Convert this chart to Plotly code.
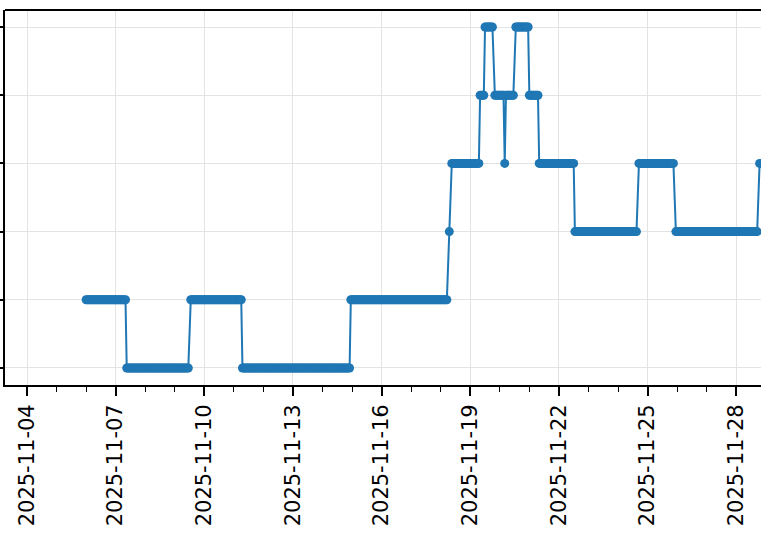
import pandas as pd
import plotly.graph_objects as go

# Run-length readings: each run holds a constant level, sampled hourly
seg_start = ["2025-11-06 00:00", "2025-11-07 09:00", "2025-11-09 13:00", "2025-11-11 07:00",
             "2025-11-14 23:00", "2025-11-18 07:00", "2025-11-18 09:00", "2025-11-19 08:00",
             "2025-11-19 12:00", "2025-11-19 20:00", "2025-11-20 04:00", "2025-11-20 05:00",
             "2025-11-20 13:00", "2025-11-21 00:00", "2025-11-21 08:00", "2025-11-22 13:00",
             "2025-11-24 17:00", "2025-11-25 23:00", "2025-11-28 19:00"]
seg_end = ["2025-11-07 08:00", "2025-11-09 11:00", "2025-11-11 06:00", "2025-11-14 22:00",
           "2025-11-18 05:00", "2025-11-18 07:00", "2025-11-19 07:00", "2025-11-19 11:00",
           "2025-11-19 18:00", "2025-11-20 03:00", "2025-11-20 04:00", "2025-11-20 11:00",
           "2025-11-20 23:00", "2025-11-21 07:00", "2025-11-22 12:00", "2025-11-24 15:00",
           "2025-11-25 21:00", "2025-11-28 17:00", "2025-11-29 06:00"]
seg_level = [1, 0, 1, 0, 1, 2, 3, 4, 5, 4, 3, 4, 5, 4, 3, 2, 3, 2, 3]

y_ticks = [0, 1, 2, 3, 4, 5]

xs, ys = [], []
for s, e, v in zip(seg_start, seg_end, seg_level):
    for t in pd.date_range(s, e, freq="h"):
        xs.append(t)
        ys.append(v)

blue = "#1f77b4"
fig = go.Figure()
fig.add_trace(go.Scatter(
    x=xs, y=ys, mode="lines+markers",
    line=dict(color=blue, width=2),
    marker=dict(color=blue, size=9),
    showlegend=False,
))

fig.update_layout(
    width=761, height=542,
    margin=dict(l=5, r=0, t=10, b=157),
    paper_bgcolor="white", plot_bgcolor="white",
    font=dict(family="DejaVu Sans", size=21, color="black"),
    shapes=[dict(type="line", xref="paper", yref="paper", x0=0, x1=1, y0=1, y1=1,
                 line=dict(color="black", width=1.8))],
)
fig.update_xaxes(
    type="date", automargin=False,
    range=["2025-11-03 06:08", "2025-11-28 20:08"],
    tick0="2025-11-04", dtick=3 * 86400000,
    tickformat="%Y-%m-%d", tickangle=-90,
    ticks="outside", ticklen=9, tickwidth=1.5, tickcolor="black",
    showline=True, linecolor="black", linewidth=1.8,
    showgrid=True, gridcolor="#e3e3e3", gridwidth=1,
    zeroline=False,
    minor=dict(dtick=86400000, tick0="2025-11-04", ticks="outside", ticklen=5,
               tickwidth=1.2, tickcolor="black", showgrid=False),
)
fig.update_yaxes(
    automargin=False,
    range=[-0.25, 5.25],
    tickvals=y_ticks, showticklabels=False,
    ticks="outside", ticklen=9, tickwidth=1.5, tickcolor="black",
    showline=True, linecolor="black", linewidth=1.8,
    showgrid=True, gridcolor="#e3e3e3", gridwidth=1,
    zeroline=False,
)

fig.write_html("out.html")
